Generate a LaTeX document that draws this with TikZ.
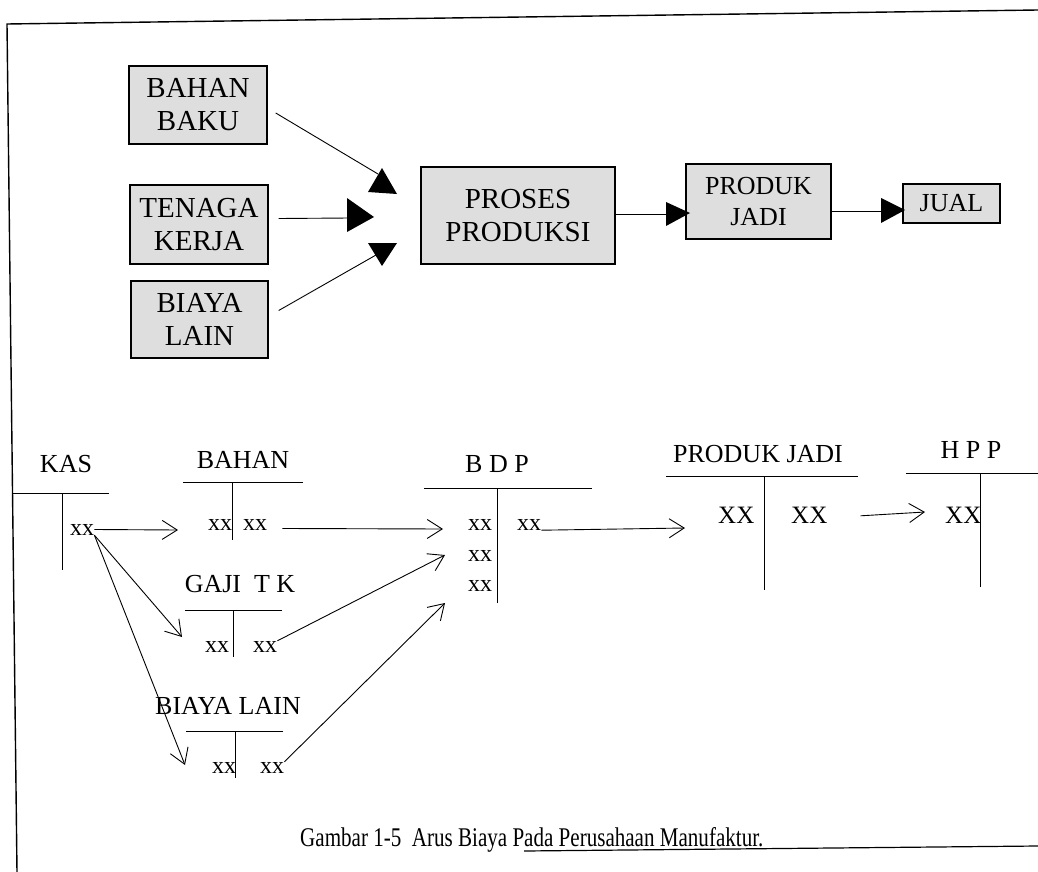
\documentclass[tikz,border=0pt]{standalone}
\usepackage{fontspec}
\setmainfont{Liberation Serif}
\usetikzlibrary{arrows.meta,calc}

\begin{document}
\begin{tikzpicture}[x=1pt,y=-1pt,
  box/.style={draw,line width=1.4pt,fill=black!13,inner sep=0pt,align=center,
              font=\fontsize{29}{33}\selectfont},
  flow/.style={line width=0.9pt},
  tip/.style={fill=black},
  acct/.style={line width=1pt},
  head/.style={anchor=base,inner sep=0pt,font=\fontsize{26}{30}\selectfont},
  amt/.style={anchor=base west,inner sep=0pt,font=\fontsize{24}{28}\selectfont},
  bigamt/.style={anchor=base west,inner sep=0pt,font=\fontsize{25}{28}\selectfont},
  post/.style={line width=0.9pt,-{Straight Barb[length=15pt,width=19pt,line width=0.9pt]}}
]
\useasboundingbox (0,0) rectangle (1038,872);
\fill[white] (0,0) rectangle (1038,872);

% frame
\draw[line width=1.4pt] (1038,10) -- (7,24) -- (17,872);
\draw[line width=1.2pt] (524,851) -- (1038,846);

% ---------- production flow ----------
\node[box,minimum width=138,minimum height=78] (bb) at (198,105) {BAHAN\\BAKU};
\node[box,minimum width=138,minimum height=79] (tk) at (199,224.5) {TENAGA\\KERJA};
\node[box,minimum width=137,minimum height=77] (bl) at (199.5,319.5) {BIAYA\\LAIN};
\node[box,minimum width=194,minimum height=97] (ps) at (518,215.5) {PROSES\\PRODUKSI};
\node[box,minimum width=145,minimum height=75,font=\fontsize{26}{31}\selectfont] (pj) at (758.5,201.5) {PRODUK\\JADI};
\node[box,minimum width=97,minimum height=39,font=\fontsize{26}{30}\selectfont] (ju) at (951.5,203.5) {JUAL};

\coordinate (ta) at (378,174);
\coordinate (tb) at (350,218);
\coordinate (tc) at (376,255);
\coordinate (td) at (668,214);
\coordinate (te) at (883,211);

\draw[flow] ($(bb.east)+(8,8)$) -- (ta);
\draw[flow] ($(tk.east)+(10,-6)$) -- (tb);
\draw[flow] ($(bl.east)+(10,-9)$) -- (tc);
\draw[flow] (ps.east |- td) -- (td);
\draw[flow] (pj.east |- te) -- (te);

\fill[tip] (382,168) -- (368,192) -- (397,194) -- cycle;
\fill[tip] (347,198) -- (347,232) -- (374,217) -- cycle;
\fill[tip] (368,243) -- (397,243) -- (382,266) -- cycle;
\fill[tip] (666,202) -- (666,226) -- (690,213) -- cycle;
\fill[tip] (881,198) -- (881,223) -- (905,210) -- cycle;

% ---------- ledger accounts ----------
% KAS
\node[head] (kas) at (66,472) {KAS};
\draw[acct] (13,493) -- (109,493);
\draw[acct] (62,493) -- (62,570);
\node[amt] (kx) at (70,535) {xx};

% BAHAN
\node[head] (bah) at (243,468) {BAHAN};
\draw[acct] (183,482) -- (303,482);
\draw[acct] (232,482) -- (232,540);
\node[amt] (bL) at (208,530) {xx};
\node[amt] (bR) at (243,530) {xx};

% GAJI TK
\node[head] (gaj) at (240,592) {GAJI\ \ T K};
\draw[acct] (185,610) -- (282,610);
\draw[acct] (233,610) -- (233,657);
\node[amt] (gL) at (205,652) {xx};
\node[amt] (gR) at (253,652) {xx};

% BIAYA LAIN
\node[head] (bla) at (228,714) {BIAYA LAIN};
\draw[acct] (186,731) -- (283,731);
\draw[acct] (235,731) -- (235,778);
\node[amt] (lL) at (212,773) {xx};
\node[amt] (lR) at (260,773) {xx};

% BDP
\node[head] (bdp) at (497,472) {B D P};
\draw[acct] (424,488) -- (592,488);
\draw[acct] (497,488) -- (497,603);
\node[amt] (d1) at (468,530) {xx};
\node[amt] (d2) at (468,561) {xx};
\node[amt] (d3) at (468,591) {xx};
\node[amt] (dR) at (517,530) {xx};

% PRODUK JADI
\node[head] (pjh) at (758,462) {PRODUK JADI};
\draw[acct] (666,476) -- (858,476);
\draw[acct] (764,476) -- (764,590);
\node[bigamt] (pL) at (718,523) {XX};
\node[bigamt] (pR) at (791,523) {XX};

% HPP
\node[head] (hpp) at (971,458) {H P P};
\draw[acct] (906,473) -- (1038,473);
\draw[acct] (980,473) -- (980,587);
\node[bigamt] (hx) at (945,523) {XX};

% postings
\coordinate (a1) at (178,530);
\coordinate (a2) at (182,637);
\coordinate (a3) at (185,765);
\coordinate (a4) at (443,529);
\coordinate (a5) at (445,555);
\coordinate (a6) at (445,603);
\coordinate (a7) at (685,528);
\coordinate (a8) at (925,512);

\draw[post] (kx.east) -- (a1);
\draw[post] (kx.south east) -- (a2);
\draw[post] (kx.south east) -- (a3);
\draw[post] ($(bR.east)+(15,4)$) -- (a4);
\draw[post] (gR.north east) -- (a5);
\draw[post] (lR.north east) -- (a6);
\draw[post] (dR.south east) -- (a7);
\draw[post] ($(pR.east)+(33,1)$) -- (a8);

% caption
\node[anchor=base west,inner sep=0pt,font=\fontsize{27}{30}\selectfont] (cap) at (300,846)
  {\scalebox{0.78}[1]{Gambar 1-5\ \ Arus Biaya Pada Perusahaan Manufaktur.}};
\end{tikzpicture}
\end{document}
